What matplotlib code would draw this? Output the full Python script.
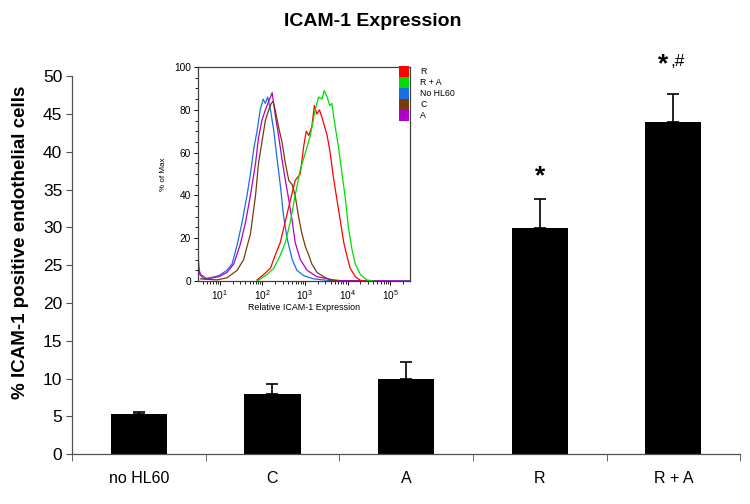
import numpy as np
import matplotlib
matplotlib.use("Agg")
import matplotlib.pyplot as plt
from matplotlib.patches import Patch
from matplotlib.ticker import MultipleLocator

plt.rcParams['font.family'] = ['Liberation Sans', 'DejaVu Sans']

# bar chart data
groups = ['no HL60', 'C', 'A', 'R', 'R + A']
means = [5.3, 7.9, 9.9, 29.9, 43.9]
errs = [0.25, 1.4, 2.3, 3.8, 3.7]
stars = ['', '', '', '*', '*']
extras = ['', '', '', '', ',#']
mark_y = [0, 0, 0, 36.8, 51.6]

# inset histogram data (log10 of intensity, % of max)
blue_x = [0.49, 0.5, 0.53, 0.625, 0.78, 0.98, 1.17, 1.29, 1.41, 1.52, 1.64, 1.72, 1.80, 1.875, 1.95,
          2.02, 2.07, 2.125, 2.19, 2.27, 2.34, 2.42, 2.50, 2.58, 2.70, 2.81, 2.97, 3.20, 3.52, 3.9, 5.5]
blue_y = [28, 10, 3, 1, 1.5, 2.5, 5, 8, 17, 27, 40, 50, 62, 70, 80,
          85, 83, 86, 80, 70, 58, 45, 30, 20, 10, 5, 2.5, 1, 0.3, 0, 0]
purple_x = [0.49, 0.5, 0.55, 0.70, 0.98, 1.17, 1.33, 1.48, 1.60, 1.72, 1.84, 1.91, 1.99, 2.07, 2.15,
            2.23, 2.30, 2.38, 2.46, 2.54, 2.62, 2.70, 2.77, 2.89, 3.05, 3.28, 3.67, 3.83, 5.5]
purple_y = [12, 6, 3, 1, 2, 4, 8, 17, 27, 40, 55, 67, 75, 80, 84,
            88, 78, 68, 57, 47, 38, 28, 18, 10, 5, 2, 0.5, 0.2, 0]
brown_x = [0.55, 0.94, 1.17, 1.41, 1.56, 1.72, 1.84, 1.91, 1.99, 2.07, 2.15, 2.21, 2.25, 2.30, 2.38,
           2.46, 2.54, 2.62, 2.70, 2.77, 2.85, 2.93, 3.01, 3.09, 3.16, 3.28, 3.44, 3.59, 3.8]
brown_y = [1, 0.5, 1.5, 5, 10, 22, 40, 55, 65, 75, 80, 83, 84, 80, 72,
           65, 55, 47, 45, 40, 30, 22, 16, 12, 8, 4, 2, 0.5, 0]
red_x = [1.875, 2.03, 2.19, 2.30, 2.42, 2.54, 2.66, 2.77, 2.89, 2.97, 3.03, 3.09, 3.16, 3.22, 3.28,
         3.34, 3.42, 3.52, 3.59, 3.67, 3.75, 3.83, 3.91, 3.98, 4.06, 4.18, 4.30, 4.4]
red_y = [0.5, 3, 6, 12, 18, 28, 38, 47, 50, 63, 70, 68, 72, 82, 78,
         80, 75, 68, 60, 48, 38, 28, 18, 12, 6, 2, 0.3, 0]
green_x = [1.875, 2.11, 2.27, 2.42, 2.54, 2.66, 2.77, 2.89, 3.01, 3.125, 3.24, 3.32, 3.40, 3.45, 3.52,
           3.58, 3.63, 3.71, 3.79, 3.87, 3.95, 4.02, 4.10, 4.18, 4.30, 4.45, 4.61]
green_y = [0, 3, 6, 12, 18, 28, 40, 52, 60, 68, 80, 86, 85, 89, 86,
           82, 83, 72, 62, 50, 38, 25, 15, 8, 3, 0.5, 0]

fig = plt.figure(figsize=(7.5, 5.04), dpi=100)
ax = fig.add_axes([0.096, 0.099, 0.891, 0.750])

x = np.arange(len(groups))
ax.bar(x, means, width=0.42, color='black', zorder=2)
ax.errorbar(x, means, yerr=[np.zeros(len(errs)), errs], fmt='none', ecolor='black',
            elinewidth=1.2, capsize=4, capthick=1.2, zorder=3)
for xi, ty, s, e in zip(x, mark_y, stars, extras):
    if not s:
        continue
    if e:
        ax.text(xi - 0.075, ty, s, ha='center', va='center', fontsize=19, fontweight='bold', clip_on=False)
        ax.text(xi - 0.02, ty + 0.3, e, ha='left', va='center', fontsize=12.5, clip_on=False)
    else:
        ax.text(xi, ty, s, ha='center', va='center', fontsize=19, fontweight='bold', clip_on=False)

ax.set_xlim(-0.5, 4.5)
ax.set_ylim(0, 50)
ax.set_yticks(np.arange(0, 51, 5))
ax.set_xticks(x)
ax.set_xticklabels(groups, fontsize=11.5)
ax.set_xticks(np.arange(-0.5, 4.6, 1), minor=True)
ax.tick_params(axis='x', which='major', length=0, pad=12)
ax.tick_params(axis='x', which='minor', length=5, color='#505050', direction='out')
ax.tick_params(axis='y', length=4, color='#505050', labelsize=12.5, pad=3)
for s in ['top', 'right']:
    ax.spines[s].set_visible(False)
for s in ['left', 'bottom']:
    ax.spines[s].set_color('#505050')
    ax.spines[s].set_linewidth(0.9)
ax.set_ylabel('% ICAM-1 positive endothelial cells', fontsize=13.5, fontweight='bold')
ax.yaxis.set_label_coords(-0.064, 0.56)
fig.text(0.497, 0.958, 'ICAM-1 Expression', ha='center', va='center', fontsize=14, fontweight='bold')

# inset histogram
ax_in = fig.add_axes([0.264, 0.4425, 0.283, 0.4245])
curves = [(blue_x, blue_y, '#1a6fe0'), (purple_x, purple_y, '#b000c8'), (brown_x, brown_y, '#7a3a0a'),
          (red_x, red_y, '#ff0000'), (green_x, green_y, '#00dd00')]
for cx, cy, c in curves:
    ax_in.plot(10 ** np.array(cx), cy, color=c, lw=0.9)
ax_in.set_xscale('log')
ax_in.set_xlim(10 ** 0.49, 10 ** 5.47)
ax_in.set_ylim(0, 100)
ax_in.set_yticks([0, 20, 40, 60, 80, 100])
ax_in.yaxis.set_minor_locator(MultipleLocator(5))
ax_in.set_xticks([10, 100, 1000, 10000, 100000])
ax_in.tick_params(labelsize=7.3, length=3, width=0.7, pad=2)
ax_in.tick_params(which='minor', length=2, width=0.6)
for s in ax_in.spines.values():
    s.set_linewidth(0.9)
    s.set_color('#404040')
ax_in.set_xlabel('Relative ICAM-1 Expression', fontsize=6.4, labelpad=1)
ax_in.set_ylabel('% of Max', fontsize=5.8, labelpad=5)

handles = [Patch(facecolor=c, edgecolor='none') for c in ['#ff0000', '#00dd00', '#1a6fe0', '#7a3a0a', '#b000c8']]
ax_in.legend(handles, ['R', 'R + A', 'No HL60', 'C', 'A'], loc='upper left',
             bbox_to_anchor=(0.948, 1.005), frameon=False, fontsize=6.3, handlelength=1.1,
             handleheight=1.55, labelspacing=0.0, handletextpad=1.3, borderpad=0, borderaxespad=0)

fig.savefig('out.png', dpi=100)
